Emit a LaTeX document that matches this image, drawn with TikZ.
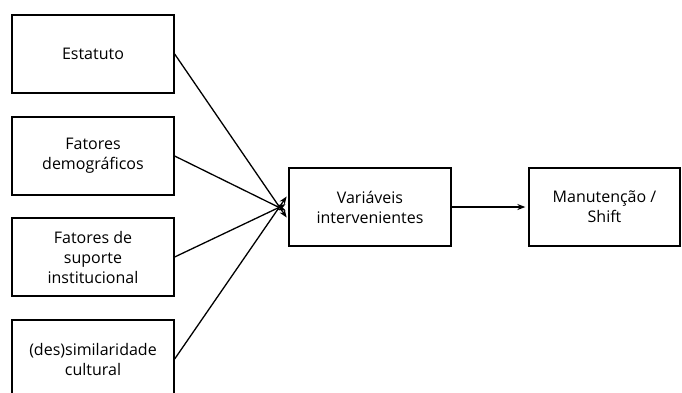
\documentclass[tikz,border=0pt]{standalone}
\usepackage{fontspec}
\setmainfont{Open Sans}
\usetikzlibrary{arrows.meta}

\begin{document}
\begin{tikzpicture}[x=1pt,y=-1pt,
        caixa/.style={draw, line width=1.3pt, minimum width=162pt, minimum height=78pt,
          align=center, inner sep=2pt, font=\fontsize{16}{20}\selectfont},% boxes
        seta/.style={-{Stealth[length=8pt,width=6pt]}, line width=1.3pt, shorten >=3pt}]
\useasboundingbox (0,0) rectangle (682,392);
% fatores a esquerda
\node[caixa] (est) at (93,54) {Estatuto};
\node[caixa] (dem) at (93,156) {Fatores\\demográficos};
\node[caixa] (sup) at (93,257) {Fatores de\\suporte\\institucional};
\node[caixa] (sim) at (93,359) {(des)similaridade\\cultural};
% centro e direita
\node[caixa] (var) at (370,207) {Variáveis\\intervenientes};
\node[caixa, minimum width=151pt] (man) at (604.5,207) {Manutenção /\\Shift};

\foreach \n/\dy in {est/-13,dem/-5,sup/4,sim/13}{ % arrows converge on var
\draw[seta] (\n.east) -- ([yshift=\dy pt]var.west);
}
\draw[seta] (var.east) -- (man.west);
\end{tikzpicture}
\end{document}
